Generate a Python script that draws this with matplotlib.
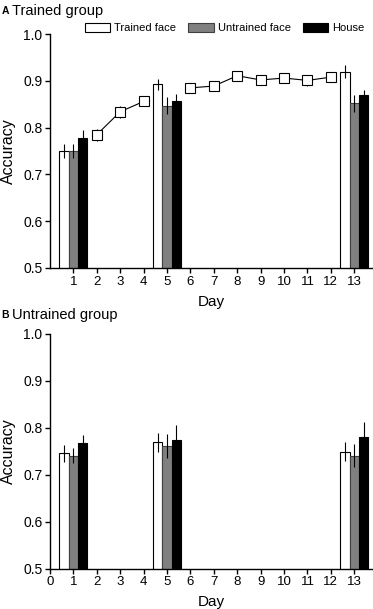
import numpy as np
import matplotlib
matplotlib.use("Agg")
import matplotlib.pyplot as plt
from matplotlib.patches import Patch

plt.rcParams["font.family"] = ["Liberation Sans", "DejaVu Sans"]

# bar days and categories
BAR_DAYS = [1, 5, 13]
CATEGORIES = ["Trained face", "Untrained face", "House"]

# trained group: bars (rows = days 1, 5, 13)
trained_mean = [[0.750, 0.750, 0.778],
                [0.893, 0.847, 0.857],
                [0.920, 0.852, 0.869]]
trained_err = [[0.015, 0.015, 0.017],
               [0.012, 0.018, 0.015],
               [0.014, 0.018, 0.012]]

# trained group: training-day line (two segments)
line_days_a = [2, 3, 4]
line_mean_a = [0.785, 0.834, 0.856]
line_err_a = [0.013, 0.013, 0.010]
line_days_b = [6, 7, 8, 9, 10, 11, 12]
line_mean_b = [0.885, 0.889, 0.911, 0.902, 0.906, 0.901, 0.908]
line_err_b = [0.010, 0.010, 0.007, 0.010, 0.009, 0.011, 0.009]

# untrained group bars
untrained_mean = [[0.746, 0.741, 0.767],
                  [0.769, 0.761, 0.775],
                  [0.749, 0.741, 0.781]]
untrained_err = [[0.018, 0.015, 0.018],
                 [0.020, 0.025, 0.030],
                 [0.020, 0.025, 0.032]]

FILLS = ["white", "#808080", "black"]
EDGES = ["black", "#404040", "black"]
WIDTH = 0.4


def draw_bars(ax, means, errs):
    means = np.array(means)
    errs = np.array(errs)
    for j in range(3):
        xs = np.array(BAR_DAYS) + (j - 1) * WIDTH
        ax.bar(xs, means[:, j], WIDTH, bottom=0, color=FILLS[j], edgecolor=EDGES[j],
               linewidth=0.8, zorder=2)
        ax.errorbar(xs, means[:, j], yerr=errs[:, j], fmt="none", ecolor="black",
                    elinewidth=0.8, capsize=0, zorder=3)


def style_axes(ax, xticks):
    ax.set_ylim(0.5, 1.0)
    ax.set_xlim(0, 13.8)
    ax.set_yticks([0.5, 0.6, 0.7, 0.8, 0.9, 1.0])
    ax.set_yticklabels(["0.5", "0.6", "0.7", "0.8", "0.9", "1.0"])
    ax.set_xticks(xticks)
    ax.spines["top"].set_visible(False)
    ax.spines["right"].set_visible(False)
    ax.spines["left"].set_linewidth(1.0)
    ax.spines["bottom"].set_linewidth(1.0)
    ax.tick_params(direction="out", length=3.5, width=1.0, labelsize=9.5, pad=2)
    ax.tick_params(axis="y", labelsize=10)
    ax.set_ylabel("Accuracy", fontsize=11.5, labelpad=5)
    ax.set_xlabel("Day", fontsize=11, labelpad=5)


fig = plt.figure(figsize=(3.73, 6.09), dpi=100)
ax1 = fig.add_axes([0.134, 0.560, 0.866, 0.384])
ax2 = fig.add_axes([0.134, 0.066, 0.866, 0.386])

# panel A
draw_bars(ax1, trained_mean, trained_err)
for days, m, e in [(line_days_a, line_mean_a, line_err_a),
                   (line_days_b, line_mean_b, line_err_b)]:
    ax1.errorbar(days, m, yerr=e, fmt="-s", color="black", mfc="white", mec="black",
                 ms=6.5, mew=0.8, lw=0.8, elinewidth=0.8, capsize=0, zorder=4)
style_axes(ax1, list(range(1, 14)))

# panel B
draw_bars(ax2, untrained_mean, untrained_err)
style_axes(ax2, list(range(0, 14)))

fig.text(0.005, 0.982, "A", fontsize=7.5, fontweight="bold", va="center")
fig.text(0.032, 0.982, "Trained group", fontsize=10.5, va="center")
fig.text(0.003, 0.483, "B", fontsize=7.5, fontweight="bold", va="center")
fig.text(0.032, 0.483, "Untrained group", fontsize=10.5, va="center")

handles = [Patch(facecolor=FILLS[j], edgecolor=EDGES[j], linewidth=0.8) for j in range(3)]
fig.legend(handles, CATEGORIES, loc="center", bbox_to_anchor=(0.602, 0.954), ncol=3,
           frameon=False, fontsize=8, handlelength=2.3, handleheight=0.9,
           handletextpad=0.35, columnspacing=1.1, borderpad=0)

fig.savefig("out.png", dpi=100)
